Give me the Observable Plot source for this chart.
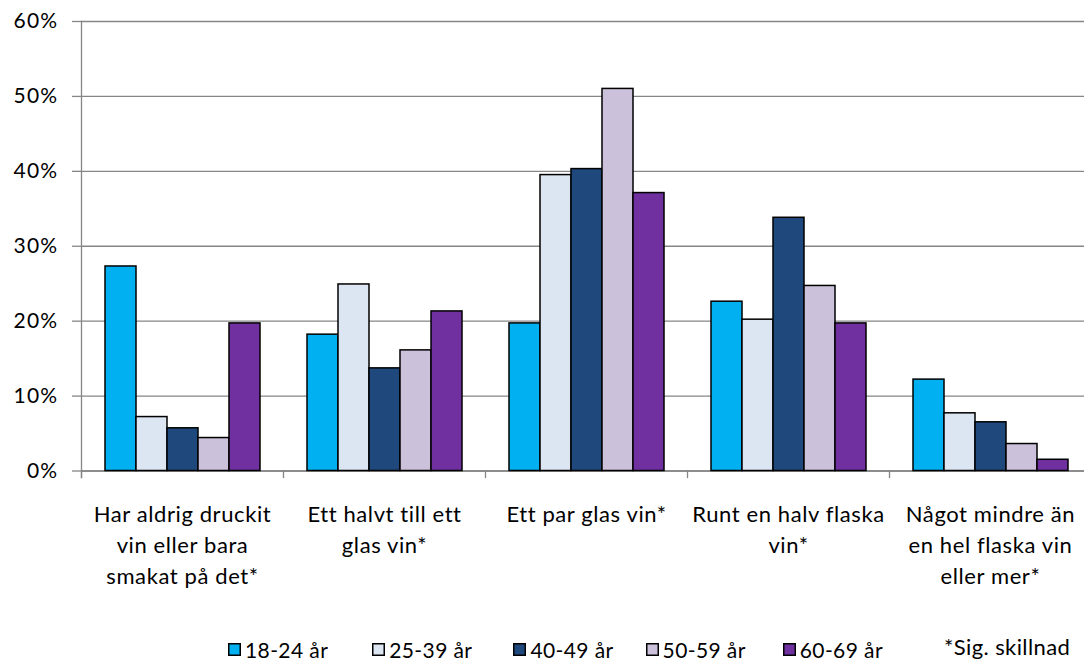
<!DOCTYPE html>
<html><head><meta charset="utf-8">
<script src="https://cdn.jsdelivr.net/npm/d3@7"></script>
<script src="https://cdn.jsdelivr.net/npm/@observablehq/plot@0.6"></script>
<style>
html,body{margin:0;padding:0;background:#fff;overflow:hidden;width:1084px;height:662px}
#chart{position:relative;width:1084px;height:662px;font-family:Lato,sans-serif;color:#000}
#chart > svg{position:absolute;left:0;top:0}
#chart svg g[aria-label="fx-axis tick label"] text{letter-spacing:0.6px}
#chart svg g[aria-label="y-axis tick label"] text{letter-spacing:1.3px}
#legend{position:absolute;left:228px;top:634px;height:30px}
#legend .lg-swatches{display:flex;align-items:center;min-height:30px;margin:0;font-family:Lato,sans-serif;font-size:21px;color:#000;letter-spacing:0.4px}
#legend .lg-swatch{margin-right:0;display:inline-flex;align-items:center}
#legend .lg-swatch svg{margin-right:4px;overflow:hidden}
#legend .lg-swatch svg rect{stroke:#000;stroke-width:3px}
#note{position:absolute;left:944px;top:633px;font-family:Lato,sans-serif;font-size:22px;color:#000;white-space:nowrap;letter-spacing:0.4px}
</style></head><body><div id="chart"></div>
<script>
const categories = [
  "Har aldrig druckit\nvin eller bara\nsmakat på det*",
  "Ett halvt till ett\nglas vin*",
  "Ett par glas vin*",
  "Runt en halv flaska\nvin*",
  "Något mindre än\nen hel flaska vin\neller mer*"
];
const series = ["18-24 år", "25-39 år", "40-49 år", "50-59 år", "60-69 år"];
const colors = ["#00B0F0", "#DCE6F2", "#1F497D", "#CCC1DA", "#7030A0"];
const v18_24 = [27.3, 18.2, 19.7, 22.6, 12.2];
const v25_39 = [7.2, 24.9, 39.5, 20.2, 7.7];
const v40_49 = [5.7, 13.7, 40.3, 33.8, 6.5];
const v50_59 = [4.4, 16.1, 51.0, 24.7, 3.6];
const v60_69 = [19.7, 21.3, 37.1, 19.7, 1.5];
const yTicks = [0, 10, 20, 30, 40, 50, 60];
const note = "*Sig. skillnad";

const seriesValues = [v18_24, v25_39, v40_49, v50_59, v60_69];
const data = [];
categories.forEach((cat, ci) => {
  series.forEach((s, si) => data.push({cat, series: s, value: seriesValues[si][ci]}));
});

const grid = "#868686";
const plot = Plot.plot({
  width: 1084, height: 630,
  marginLeft: 81, marginRight: 0, marginTop: 21, marginBottom: 153,
  style: {fontFamily: "Lato, sans-serif", fontSize: "20px", color: "#000", background: "transparent", overflow: "hidden"},
  fx: {domain: categories, range: [81, 1091], padding: 0, label: null},
  x: {domain: series, paddingInner: 0, paddingOuter: 0.716, axis: null},
  y: {domain: [0, 60], range: [470.5, 21], label: null},
  color: {domain: series, range: colors},
  marks: [
    Plot.gridY(yTicks, {stroke: grid, strokeOpacity: 1, strokeWidth: 1.3}),
    Plot.ruleY([0], {stroke: grid, strokeWidth: 1.3}),
    Plot.frame({anchor: "left", facetAnchor: "left", stroke: grid, strokeWidth: 1.3}),
    Plot.frame({anchor: "left", insetTop: 449.5, stroke: grid, strokeWidth: 1.3}),
    Plot.axisY(yTicks, {tickSize: 9, tickPadding: 14, tickFormat: d => d + "%", stroke: grid, strokeWidth: 1.3, fontSize: 21, label: null}),
    Plot.barY(data, {fx: "cat", x: "series", y: "value", fill: "series", stroke: "#000", strokeWidth: 1.5}),
    Plot.axisFx({anchor: "bottom", tickSize: 0, tickPadding: 22, lineHeight: 1.41, fontSize: 22, label: null})
  ]
});
const chart = document.getElementById("chart");
chart.appendChild(plot);

const legendDiv = document.createElement("div");
legendDiv.id = "legend";
legendDiv.appendChild(Plot.legend({color: {domain: series, range: colors}, legend: "swatches", swatchSize: 13, className: "lg"}));
chart.appendChild(legendDiv);
// place swatches at the reference's horizontal steps
const gaps = [44, 41, 32, 37, 0];
legendDiv.querySelectorAll(".lg-swatch").forEach((el, i) => { el.style.marginRight = gaps[i] + "px"; });

const noteDiv = document.createElement("div");
noteDiv.id = "note";
noteDiv.textContent = note;
chart.appendChild(noteDiv);
</script>
</body></html>
